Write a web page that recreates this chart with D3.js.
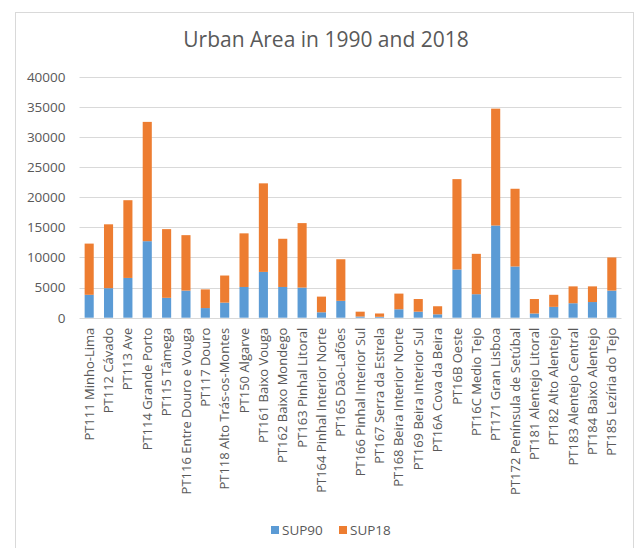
<!DOCTYPE html>
<html>
<head>
<meta charset="utf-8">
<script src="https://cdn.jsdelivr.net/npm/d3@7"></script>
<style>
  html, body { margin: 0; padding: 0; background: #fff; }
  svg text { font-family: "Open Sans", "Liberation Sans", sans-serif; fill: #595959; }
</style>
</head>
<body>
<svg id="chart" width="637" height="548"></svg>
<script>
// NUTS III regions
const regions = [
  "PT111 Minho-Lima", "PT112 Cávado", "PT113 Ave", "PT114 Grande Porto",
  "PT115 Tâmega", "PT116 Entre Douro e Vouga", "PT117 Douro",
  "PT118 Alto Trás-os-Montes", "PT150 Algarve", "PT161 Baixo Vouga",
  "PT162 Baixo Mondego", "PT163 Pinhal Litoral", "PT164 Pinhal Interior Norte",
  "PT165 Dão-Lafões", "PT166 Pinhal Interior Sul", "PT167 Serra da Estrela",
  "PT168 Beira Interior Norte", "PT169 Beira Interior Sul", "PT16A Cova da Beira",
  "PT16B Oeste", "PT16C Medio Tejo", "PT171 Gran Lisboa",
  "PT172 Península de Setúbal", "PT181 Alentejo Litoral", "PT182 Alto Alentejo",
  "PT183 Alentejo Central", "PT184 Baixo Alentejo", "PT185 Lezíria do Tejo"
];

// Urban area, 1990 (bottom segment)
const sup90 = [
  3800, 4900, 6600, 12700, 3300, 4500, 1600, 2500, 5100, 7600,
  5100, 5000, 900, 2800, 200, 150, 1400, 1000, 560, 8000,
  3900, 15300, 8500, 700, 1800, 2400, 2600, 4500
];

// Urban area, 2018 (stacked segment)
const sup18 = [
  8500, 10600, 12900, 19800, 11400, 9200, 3100, 4500, 8900, 14700,
  8000, 10700, 2600, 6900, 800, 550, 2600, 2100, 1340, 15000,
  6700, 19400, 12900, 2400, 2000, 2800, 2600, 5500
];

const yTicks = [0, 5000, 10000, 15000, 20000, 25000, 30000, 35000, 40000];
const seriesNames = ["SUP90", "SUP18"];
const seriesColors = ["#5B9BD5", "#ED7D31"];
const title = "Urban Area in 1990 and 2018";

const svg = d3.select("#chart");

// chart frame
svg.append("rect")
  .attr("x", 15.5).attr("y", 12.5)
  .attr("width", 618).attr("height", 560)
  .attr("fill", "#fff").attr("stroke", "#d9d9d9").attr("stroke-width", 1);

const plot = { left: 79.5, right: 621.5, top: 76.7, bottom: 317.7 };

const x = d3.scaleBand()
  .domain(regions)
  .range([plot.left, plot.right])
  .paddingInner(0.53)
  .paddingOuter(0.265);

const y = d3.scaleLinear()
  .domain([0, 40000])
  .range([plot.bottom, plot.top]);

// gridlines
svg.append("g")
  .selectAll("line")
  .data(yTicks.filter(d => d > 0))
  .join("line")
  .attr("x1", plot.left).attr("x2", plot.right)
  .attr("y1", d => Math.round(y(d)) + 0.5).attr("y2", d => Math.round(y(d)) + 0.5)
  .attr("stroke", "#d9d9d9").attr("stroke-width", 1);

// y axis labels
const yAxis = d3.axisLeft(y).tickValues(yTicks).tickSize(0).tickPadding(14).tickFormat(d3.format("d"));
const yG = svg.append("g").attr("transform", `translate(${plot.left},0)`).call(yAxis);
yG.select(".domain").remove();
yG.selectAll("text").style("font-size", "13.5px").style("fill", "#595959");

// stacked bars
const rows = regions.map((r, i) => ({ region: r, SUP90: sup90[i], SUP18: sup18[i] }));
const stack = d3.stack().keys(seriesNames)(rows);

svg.append("g")
  .selectAll("g")
  .data(stack)
  .join("g")
  .attr("fill", (d, i) => seriesColors[i])
  .selectAll("rect")
  .data(d => d)
  .join("rect")
  .attr("x", d => x(d.data.region))
  .attr("width", x.bandwidth())
  .attr("y", d => y(d[1]))
  .attr("height", d => y(d[0]) - y(d[1]));

// baseline
svg.append("line")
  .attr("x1", plot.left).attr("x2", plot.right)
  .attr("y1", Math.round(y(0)) + 0.5).attr("y2", Math.round(y(0)) + 0.5)
  .attr("stroke", "#d9d9d9").attr("stroke-width", 1);

// category labels
const xAxis = d3.axisBottom(x).tickSize(0).tickPadding(0);
const xG = svg.append("g").attr("transform", `translate(0,${plot.bottom})`).call(xAxis);
xG.select(".domain").remove();
xG.selectAll("text")
  .style("font-size", "13px")
  .style("fill", "#595959")
  .attr("text-anchor", "end")
  .attr("transform", "rotate(-90)")
  .attr("x", -10)
  .attr("y", 0)
  .attr("dy", "0.35em");

// title
svg.append("text")
  .attr("x", 326).attr("y", 47)
  .attr("text-anchor", "middle")
  .style("font-size", "21px")
  .text(title);

// legend
const legend = svg.append("g").attr("transform", "translate(271,530)");
const items = legend.selectAll("g")
  .data(seriesNames)
  .join("g")
  .attr("transform", (d, i) => `translate(${i * 68},0)`);
items.append("rect")
  .attr("x", 0).attr("y", -4)
  .attr("width", 8).attr("height", 8)
  .attr("fill", (d, i) => seriesColors[i]);
items.append("text")
  .attr("x", 11).attr("y", 0).attr("dy", "0.35em")
  .style("font-size", "13.5px")
  .text(d => d);
</script>
</body>
</html>
